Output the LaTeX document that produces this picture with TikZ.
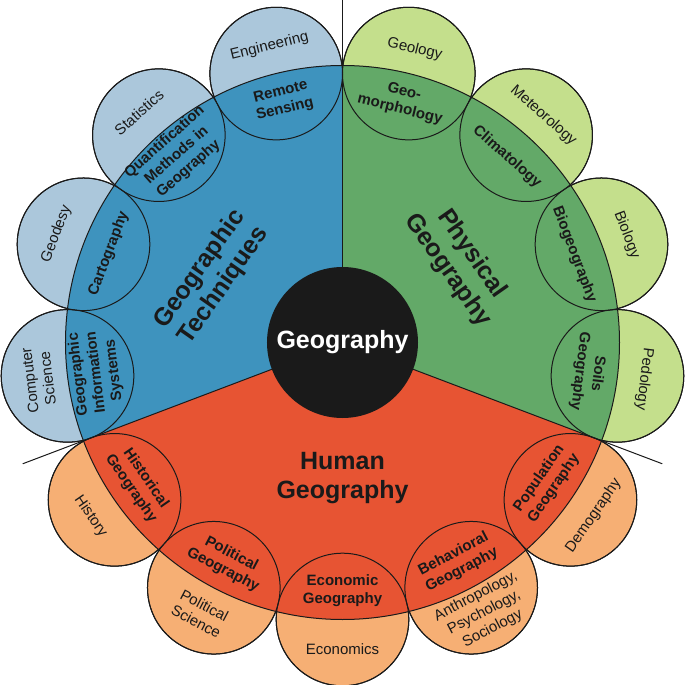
\documentclass[tikz,border=0pt]{standalone}
\usepackage{fontspec}
\setmainfont{Liberation Sans}
\definecolor{techblue}{RGB}{62,147,190}
\definecolor{techlight}{RGB}{171,199,219}
\definecolor{physgreen}{RGB}{99,169,104}
\definecolor{physlight}{RGB}{196,223,140}
\definecolor{humred}{RGB}{231,84,51}
\definecolor{humlight}{RGB}{246,175,116}
\definecolor{ink}{RGB}{26,26,26}

\begin{document}
\begin{tikzpicture}[
		x=1pt, y=1pt,
		line width=1pt,
		every node/.style={text=ink},
		bubble/.style={circle,draw=ink,minimum size=132.6pt,inner sep=0pt},
		core/.style={font=\bfseries\fontsize{15}{18}\selectfont,align=center},
		field/.style={font=\fontsize{15}{18}\selectfont,align=center},
		branch/.style={font=\bfseries\fontsize{25}{29}\selectfont,align=center}
		]
		\useasboundingbox (-342.5,-342.5) rectangle (342.5,342.5);
		\coordinate (o) at (0,0);
		% outer bubbles
		\node[bubble,fill=techlight] (rs) at (103.846:277pt) {};
		\node[bubble,fill=techlight] (qm) at (131.538:277pt) {};
		\node[bubble,fill=techlight] (ca) at (159.231:277pt) {};
		\node[bubble,fill=techlight] (gis) at (186.923:277pt) {};
		\node[bubble,fill=physlight] (gm) at (76.154:277pt) {};
		\node[bubble,fill=physlight] (cl) at (48.462:277pt) {};
		\node[bubble,fill=physlight] (bg) at (20.769:277pt) {};
		\node[bubble,fill=physlight] (sg) at (-6.923:277pt) {};
		\node[bubble,fill=humlight] (hg) at (214.615:277pt) {};
		\node[bubble,fill=humlight] (pg) at (242.308:277pt) {};
		\node[bubble,fill=humlight] (eg) at (270:277pt) {};
		\node[bubble,fill=humlight] (bh) at (297.692:277pt) {};
		\node[bubble,fill=humlight] (pop) at (325.385:277pt) {};
		% the three sectors
		\fill[techblue] (o) -- (90:277pt) arc[start angle=90,end angle=200.77,radius=277pt] -- cycle;
		\fill[physgreen] (o) -- (90:277pt) arc[start angle=90,end angle=-20.77,radius=277pt] -- cycle;
		\fill[humred] (o) -- (200.77:277pt) arc[start angle=200.77,end angle=339.23,radius=277pt] -- cycle;
		\draw[ink] (o) circle[radius=277pt];
		\foreach \b in {rs,qm,ca,gis,gm,cl,bg,sg,hg,pg,eg,bh,pop}
			\draw[ink] (\b.center) circle[radius=66.3pt];
		% techniques
		\node[core,rotate=13.85] (rslab) at (103.846:249pt) {Remote\\Sensing};
		\node[field,rotate=13.85] (engineering) at (103.846:305pt) {Engineering};
		\node[core,rotate=41.54] (qmlab) at (131.538:250pt) {Quantification\\Methods in\\Geography};
		\node[field,rotate=41.54] (statistics) at (131.538:307pt) {Statistics};
		\node[core,rotate=69.23] (calab) at (159.231:250pt) {Cartography};
		\node[field,rotate=69.23] (geodesy) at (159.231:306pt) {Geodesy};
		\node[core,rotate=96.92] (gislab) at (186.923:248pt) {Geographic\\Information\\Systems};
		\node[field,rotate=96.92] (compsci) at (186.923:306pt) {Computer\\Science};
		% physical
		\node[core,rotate=-13.85] (gmlab) at (76.154:249pt) {Geo-\\morphology};
		\node[field,rotate=-13.85] (geology) at (76.154:302pt) {Geology};
		\node[core,rotate=-41.54] (cllab) at (48.462:248pt) {Climatology};
		\node[field,rotate=-41.54] (meteorology) at (48.462:303pt) {Meteorology};
		\node[core,rotate=-69.23] (bglab) at (20.769:248pt) {Biogeography};
		\node[field,rotate=-69.23] (biology) at (20.769:304pt) {Biology};
		\node[core,rotate=-96.92] (sglab) at (-6.923:248pt) {Soils\\Geography};
		\node[field,rotate=-96.92] (pedology) at (-6.923:304pt) {Pedology};
		% human
		\node[core,rotate=-55.38] (hglab) at (214.615:248pt) {Historical\\Geography};
		\node[field,rotate=-55.38] (history) at (214.615:306pt) {History};
		\node[core,rotate=-27.69] (pglab) at (242.308:248pt) {Political\\Geography};
		\node[field,rotate=-27.69] (polsci) at (242.308:306pt) {Political\\Science};
		\node[core] (eglab) at (270:248pt) {Economic\\Geography};
		\node[field] (economics) at (270:307pt) {Economics};
		\node[core,rotate=27.69] (bhlab) at (297.692:248pt) {Behavioral\\Geography};
		\node[field,rotate=27.69] (social) at (297.692:305pt) {Anthropology,\\Psychology,\\Sociology};
		\node[core,rotate=55.38] (poplab) at (325.385:248pt) {Population\\Geography};
		\node[field,rotate=55.38] (demography) at (325.385:305pt) {Demography};
		% branch names
		\node[branch,rotate=55] (techniques) at (153.6:146pt) {Geographic\\Techniques};
		\node[branch,rotate=-55] (physical) at (34.4:142pt) {Physical\\Geography};
		\node[branch] (human) at (270:136pt) {Human\\Geography};
		% dividers
		\coordinate (up) at (90:342.5pt);
		\coordinate (left) at (200.77:342pt);
		\coordinate (right) at (-20.77:342pt);
		\draw[ink] (o) -- (up);
		\draw[ink] (o) -- (left);
		\draw[ink] (o) -- (right);
		\node[circle,fill=ink,minimum size=151pt,inner sep=0pt,text=white,font=\bfseries\fontsize{25}{29}\selectfont] (geo) at (o) {Geography};
	\end{tikzpicture}
\end{document}
